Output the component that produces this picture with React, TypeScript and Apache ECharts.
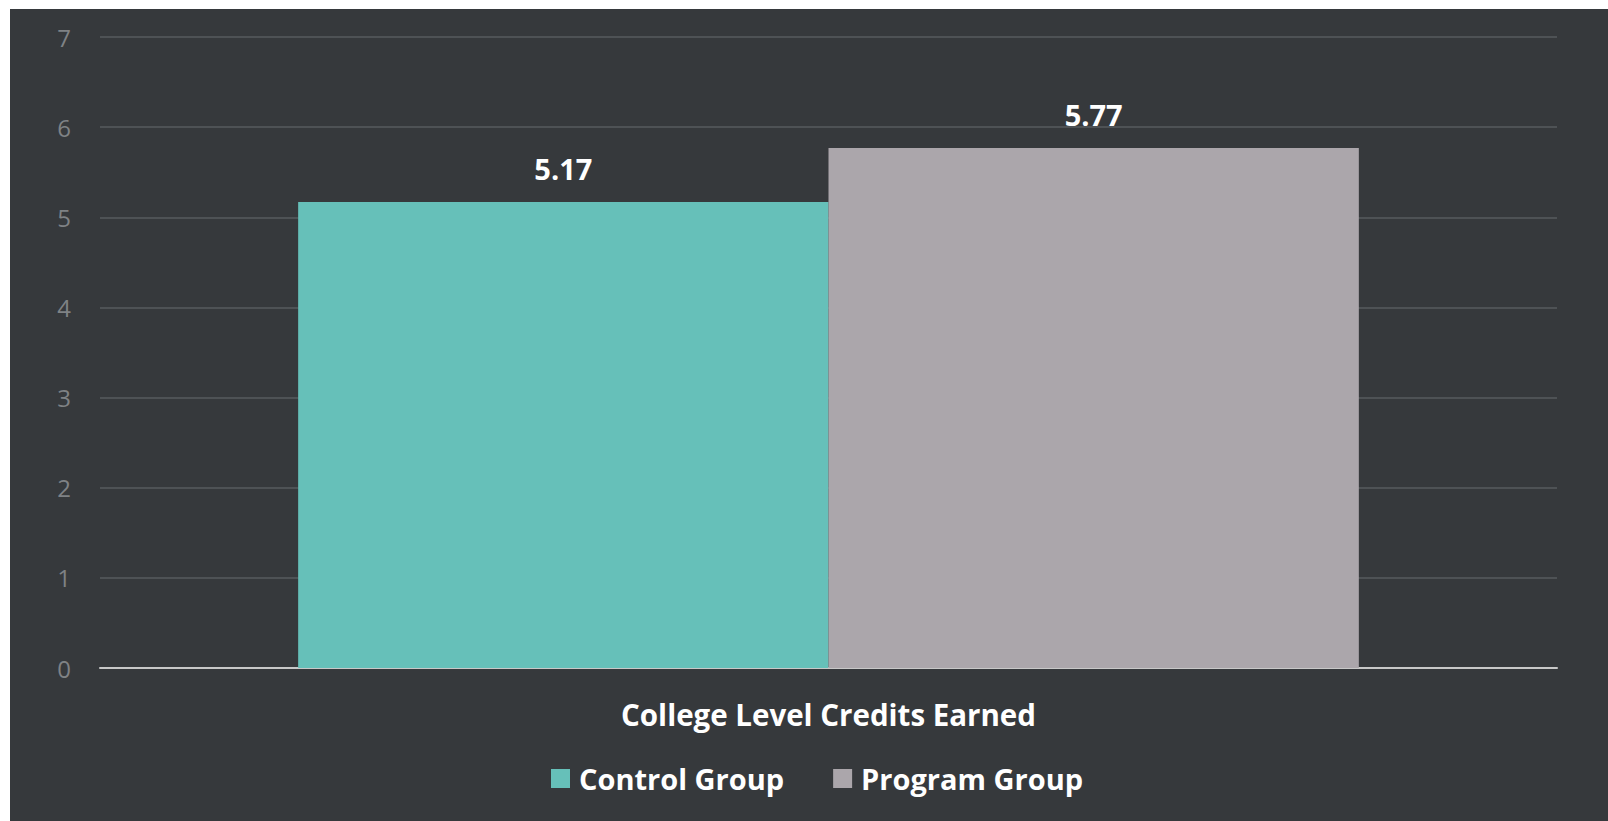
import React, { useEffect, useRef } from "react";
import * as echarts from "echarts";

const categories = ["College Level Credits Earned"];
const seriesNames = ["Control Group", "Program Group"];
const controlValues = [5.17];
const programValues = [5.77];
const yTicks = { min: 0, max: 7, interval: 1 };

export default function App() {
  const ref = useRef<HTMLDivElement>(null);
  useEffect(() => {
    if (!ref.current) return;
    const chart = echarts.init(ref.current, undefined, { renderer: "svg" });
    const font = "'Open Sans', 'DejaVu Sans', sans-serif";
    const labelStyle = {
      show: true,
      position: "top" as const,
      distance: 19,
      color: "#ffffff",
      fontSize: 29,
      fontWeight: "bold" as const,
      fontFamily: font,
      formatter: (p: any) => Number(p.value).toFixed(2),
    };
    chart.setOption({
      animation: false,
      backgroundColor: "#36393c",
      textStyle: { fontFamily: font },
      grid: { left: 90, right: 51, top: 28, bottom: 153, containLabel: false },
      legend: {
        data: seriesNames,
        left: 536,
        top: 750,
        icon: "rect",
        itemWidth: 19,
        itemHeight: 19,
        itemGap: 49,
        textStyle: {
          color: "#ffffff",
          fontSize: 29,
          fontWeight: "bold",
          fontFamily: font,
          padding: [0, 0, 0, 4],
        },
      },
      xAxis: {
        type: "category",
        data: categories,
        axisLine: { show: true, lineStyle: { color: "#c8c8c8", width: 2 } },
        axisTick: { show: false },
        axisLabel: {
          color: "#ffffff",
          fontSize: 29.5,
          fontWeight: "bold",
          fontFamily: font,
          margin: 31,
        },
      },
      yAxis: {
        type: "value",
        min: yTicks.min,
        max: yTicks.max,
        interval: yTicks.interval,
        axisLine: { show: false },
        axisTick: { show: false },
        axisLabel: { color: "#7f8285", fontSize: 24, fontFamily: font, margin: 29 },
        splitLine: { lineStyle: { color: "#575b5e", width: 1.5 } },
      },
      series: [
        {
          name: seriesNames[0],
          type: "bar",
          data: controlValues,
          barGap: "0%",
          barCategoryGap: "27.2%",
          itemStyle: { color: "#66c0b9" },
          label: labelStyle,
        },
        {
          name: seriesNames[1],
          type: "bar",
          data: programValues,
          barGap: "0%",
          barCategoryGap: "27.2%",
          itemStyle: { color: "#aba6ab" },
          label: labelStyle,
        },
      ],
    });
    return () => chart.dispose();
  }, []);
  return (
    <div
      ref={ref}
      style={{ position: "absolute", left: 10, top: 9, width: 1598, height: 812 }}
    />
  );
}
